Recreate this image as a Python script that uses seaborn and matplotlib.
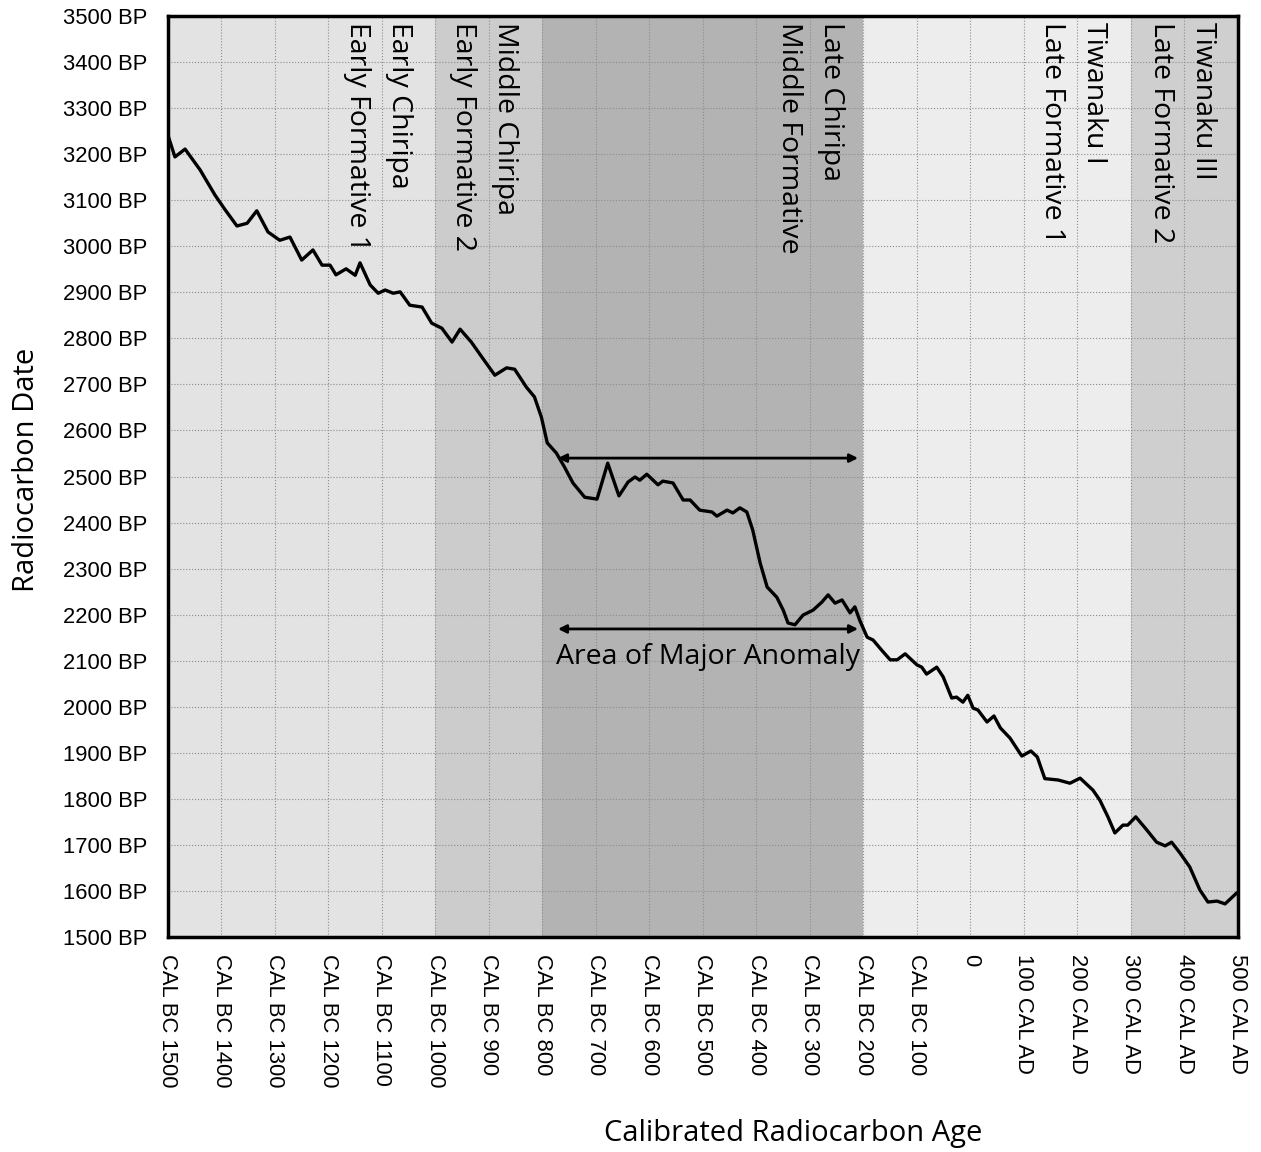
import matplotlib
matplotlib.use("Agg")
import matplotlib.pyplot as plt
import seaborn as sns

# Calibration curve (negative = BC)
cal_year = [-1500, -1487, -1468, -1440, -1412, -1393, -1371, -1352, -1334, -1313,
            -1291, -1272, -1250, -1229, -1212, -1197, -1186, -1167, -1150, -1141,
            -1122, -1107, -1094, -1079, -1066, -1048, -1025, -1007, -988, -969,
            -954, -933, -913, -889, -867, -852, -830, -815, -802, -791,
            -774, -759, -743, -721, -698, -678, -657, -640, -627, -618,
            -605, -584, -575, -556, -537, -524, -506, -483, -474, -455,
            -444, -431, -418, -407, -393, -380, -362, -350, -341, -328,
            -313, -294, -278, -266, -253, -240, -225, -216, -207, -193,
            -182, -166, -150, -137, -122, -100, -91, -82, -63, -51,
            -35, -26, -14, -5, 5, 14, 31, 44, 56, 74,
            96, 113, 125, 139, 164, 186, 205, 229, 242, 257,
            270, 285, 294, 309, 330, 348, 364, 376, 392, 410,
            429, 444, 461, 476, 498]
radiocarbon_bp = [3241, 3194, 3211, 3166, 3111, 3079, 3044, 3050, 3077, 3031,
                  3013, 3020, 2970, 2992, 2959, 2959, 2938, 2951, 2937, 2964,
                  2916, 2898, 2905, 2898, 2901, 2872, 2868, 2833, 2822, 2792,
                  2820, 2792, 2759, 2720, 2736, 2733, 2694, 2673, 2629, 2573,
                  2551, 2521, 2486, 2455, 2451, 2529, 2458, 2488, 2499, 2492,
                  2505, 2482, 2490, 2486, 2449, 2449, 2427, 2423, 2414, 2427,
                  2421, 2432, 2423, 2384, 2312, 2260, 2238, 2210, 2182, 2178,
                  2199, 2210, 2227, 2243, 2225, 2232, 2204, 2217, 2188, 2151,
                  2145, 2123, 2102, 2102, 2115, 2091, 2086, 2071, 2086, 2065,
                  2019, 2021, 2010, 2025, 1997, 1993, 1967, 1980, 1954, 1932,
                  1893, 1904, 1891, 1844, 1841, 1834, 1845, 1819, 1797, 1761,
                  1726, 1743, 1743, 1761, 1732, 1706, 1698, 1706, 1682, 1652,
                  1602, 1576, 1578, 1572, 1596]

x_ticks = list(range(-1500, 501, 100))
x_tick_labels = [f"CAL BC {abs(v)}" for v in x_ticks if v < 0] + ["0"] + \
                [f"{v} CAL AD" for v in x_ticks if v > 0]
y_ticks = list(range(1500, 3501, 100))
y_tick_labels = [f"{v} BP" for v in y_ticks]

# period bands
band_edges = [-1500, -1000, -800, -200, 300, 500]
band_shades = ["#e3e3e3", "#cccccc", "#b3b3b3", "#ededed", "#cfcfcf"]

period_labels = ["Early Chiripa\nEarly Formative 1",
                 "Middle Chiripa\nEarly Formative 2",
                 "Late Chiripa\nMiddle Formative",
                 "Tiwanaku I\nLate Formative 1",
                 "Tiwanaku III\nLate Formative 2"]
period_x = [-1107, -909, -300, 192, 395]

anomaly_start, anomaly_end = -771, -210
anomaly_levels = [2540, 2169]

sns.set_theme(style="white")
plt.rcParams["font.family"] = ["Open Sans", "DejaVu Sans"]
plt.rcParams["text.color"] = "black"
plt.rcParams["xtick.color"] = "black"
plt.rcParams["ytick.color"] = "black"

fig = plt.figure(figsize=(12.61, 11.52), dpi=100)
ax = fig.add_axes([0.1332, 0.1866, 0.8485, 0.7995])

for lo, hi, shade in zip(band_edges[:-1], band_edges[1:], band_shades):
    ax.axvspan(lo, hi, color=shade, lw=0, zorder=0)

sns.lineplot(x=cal_year, y=radiocarbon_bp, ax=ax, color="black", lw=2.4,
             sort=False, zorder=3)

for lvl in anomaly_levels:
    ax.annotate("", xy=(anomaly_end, lvl), xytext=(anomaly_start, lvl),
                arrowprops=dict(arrowstyle="<|-|>", color="black", lw=2,
                                mutation_scale=12, shrinkA=0, shrinkB=0),
                zorder=4)
ax.text((anomaly_start + anomaly_end) / 2, 2108, "Area of Major Anomaly",
        ha="center", va="center", fontsize=20.5)

for x, lab in zip(period_x, period_labels):
    ax.text(x, 3487, lab, rotation=-90, ha="center", va="top", fontsize=20.5,
            linespacing=1.65, multialignment="left")

ax.set_xlim(-1500, 500)
ax.set_ylim(1500, 3500)
ax.set_xticks(x_ticks, x_tick_labels, rotation=-90, fontsize=15.8,
              family="Liberation Sans")
ax.set_yticks(y_ticks, y_tick_labels, fontsize=15.8, family="Liberation Sans")
ax.tick_params(axis="x", direction="out", length=6, width=1.2, pad=6)
ax.tick_params(axis="y", direction="out", length=6, width=1.2, pad=9)
ax.set_xlabel("")
ax.set_ylabel("")
ax.set_axisbelow(True)
ax.grid(True, ls=":", color="#8c8c8c", lw=0.8)
for sp in ax.spines.values():
    sp.set_color("black")
    sp.set_linewidth(2.5)

fig.text(27 / 1261, 1 - 470 / 1152, "Radiocarbon Date", rotation=90,
         ha="center", va="center", fontsize=21)
fig.text(793 / 1261, 1 - 1133 / 1152, "Calibrated Radiocarbon Age",
         ha="center", va="center", fontsize=21)

fig.savefig("out.png", dpi=100)
